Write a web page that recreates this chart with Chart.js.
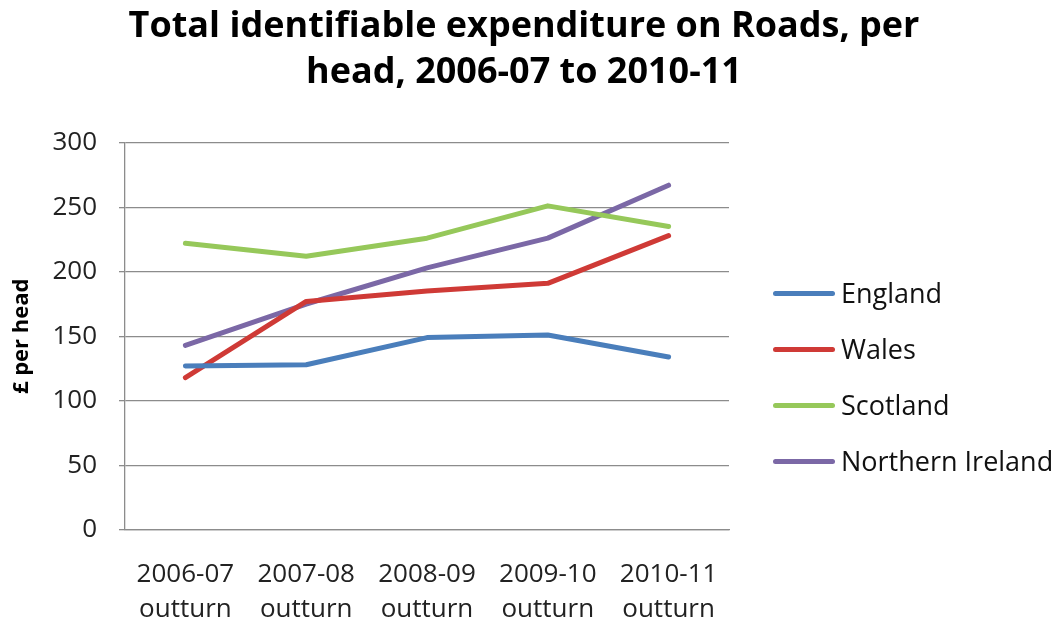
<!DOCTYPE html>
<html>
<head>
<meta charset="utf-8">
<script src="https://cdn.jsdelivr.net/npm/chart.js@4.4.0/dist/chart.umd.min.js"></script>
<style>
  html, body { margin: 0; padding: 0; background: #fff; }
  #wrap { position: relative; width: 1061px; height: 624px; }
  #legend { position: absolute; left: 773px; top: 275px; font-family: 'Open Sans', 'Noto Sans', sans-serif; font-size: 27px; color: #111; }
  #legend .item { height: 56px; display: flex; align-items: flex-start; }
  #legend .swatch { width: 62px; height: 5px; border-radius: 3px; margin-top: 16px; margin-right: 6px; }
  #legend .txt { line-height: 36px; white-space: nowrap; }
</style>
</head>
<body>
<div id="wrap">
  <canvas id="myChart" width="1061" height="624"></canvas>
  <div id="legend"></div>
</div>
<script>
// data
const years = ["2006-07", "2007-08", "2008-09", "2009-10", "2010-11"];
const england = [127, 128, 149, 151, 134];
const wales = [118, 177, 185, 191, 228];
const scotland = [222, 212, 226, 251, 235];
const northernIreland = [143, 175, 203, 226, 267];
const yTicks = [0, 50, 100, 150, 200, 250, 300];

const FONT = "'Open Sans', 'Noto Sans', sans-serif";

function line(label, data, color) {
  return {
    label: label,
    data: data,
    borderColor: color,
    backgroundColor: color,
    borderWidth: 5,
    pointRadius: 0,
    tension: 0,
    borderCapStyle: "round",
    borderJoinStyle: "round",
  };
}

function draw() {
  const ctx = document.getElementById("myChart").getContext("2d");
  const chart = new Chart(ctx, {
    type: "line",
    data: {
      labels: years.map((y) => [y, "outturn"]),
      datasets: [
        line("England", england, "#4a7ebb"),
        line("Wales", wales, "#cf3a36"),
        line("Scotland", scotland, "#96c85a"),
        line("Northern Ireland", northernIreland, "#7b68a6"),
      ],
    },
    options: {
      responsive: false,
      animation: false,
      layout: { padding: { left: 4, right: 17, bottom: 0 } },
      plugins: {
        title: {
          display: true,
          text: ["Total identifiable expenditure on Roads, per", "head, 2006-07 to 2010-11"],
          color: "#000",
          font: { family: FONT, size: 36, weight: "bold", lineHeight: 1.3 },
          padding: { top: 3, bottom: 46 },
        },
        legend: { display: false },
        tooltip: { enabled: false },
      },
      scales: {
        x: {
          offset: true,
          grid: { display: false },
          border: { display: true, color: "#8c8c8c", width: 1.3 },
          ticks: {
            color: "#222",
            font: { family: FONT, size: 26, lineHeight: 1.36 },
            maxRotation: 0,
            padding: 19,
          },
          afterFit: (axis) => { axis.height = 94; },
        },
        y: {
          min: 0,
          max: 300,
          afterBuildTicks: (axis) => {
            axis.ticks = yTicks.map((v) => ({ value: v }));
          },
          grid: { color: "#8c8c8c", lineWidth: 1.3, tickLength: 6 },
          border: { display: true, color: "#8c8c8c", width: 1.3 },
          ticks: {
            color: "#222",
            font: { family: FONT, size: 26 },
            padding: 22,
          },
          title: {
            display: true,
            text: "£ per head",
            color: "#000",
            font: { family: FONT, size: 22, weight: "bold" },
            padding: { top: 5, bottom: 4 },
          },
          afterFit: (axis) => { axis.width = 121; },
        },
        // empty axis on the right, only keeps room for the legend
        side: {
          type: "linear",
          position: "right",
          grid: { display: false },
          border: { display: false },
          ticks: { display: false },
          afterFit: (axis) => { axis.width = 315; },
        },
      },
    },
  });

  // legend as plain html, from the datasets
  const box = document.getElementById("legend");
  chart.data.datasets.forEach((ds) => {
    const item = document.createElement("div");
    item.className = "item";
    item.innerHTML = '<div class="swatch" style="background:' + ds.borderColor + '"></div><div class="txt">' + ds.label + "</div>";
    box.appendChild(item);
  });
}

Promise.all([
  document.fonts.load("26px 'Open Sans'"),
  document.fonts.load("bold 36px 'Open Sans'"),
]).then(draw, draw);
</script>
</body>
</html>
